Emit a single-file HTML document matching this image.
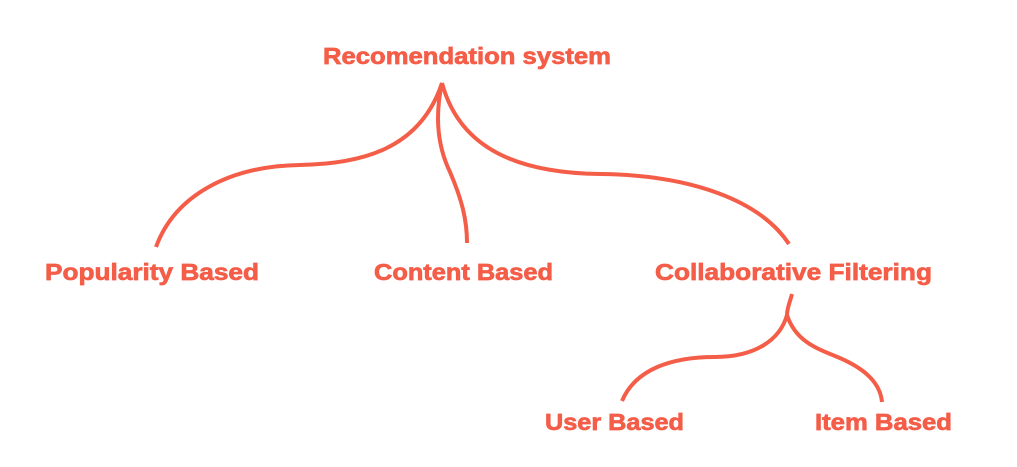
<!DOCTYPE html>
<html><head><meta charset="utf-8"><style>
html,body{margin:0;padding:0;background:#fff;}
svg{display:block}
text{font-family:"Liberation Sans",sans-serif;font-weight:bold;font-size:23px;fill:#f45d48;stroke:#f45d48;stroke-width:0.7}
path{fill:none;stroke:#f45d48;stroke-width:4;stroke-linecap:butt}
</style></head><body>
<svg width="1017" height="467" viewBox="0 0 1017 467" xmlns="http://www.w3.org/2000/svg">
<text x="323" y="64" textLength="288" lengthAdjust="spacingAndGlyphs">Recomendation system</text>
<text x="45" y="280" textLength="214" lengthAdjust="spacingAndGlyphs">Popularity Based</text>
<text x="374" y="280" textLength="179" lengthAdjust="spacingAndGlyphs">Content Based</text>
<text x="655" y="280" textLength="277" lengthAdjust="spacingAndGlyphs">Collaborative Filtering</text>
<text x="545" y="430" textLength="139" lengthAdjust="spacingAndGlyphs">User Based</text>
<text x="815" y="430" textLength="137" lengthAdjust="spacingAndGlyphs">Item Based</text>
<path d="M442 83 C420 150 360 164 300 165 C230 166 175 195 156 247"/>
<path d="M442 83 C435 115 437 145 450 172 C462 200 467 220 467 243"/>
<path d="M442 83 C460 150 520 173 600 174 C690 175 760 200 789 244"/>
<path d="M792 294 C790 302 787 308 787 315 C780 340 755 357 715 357 C670 357 635 370 622 401"/>
<path d="M787 315 C795 340 815 348 835 356 C860 366 880 380 882 402"/>
</svg>
</body></html>
